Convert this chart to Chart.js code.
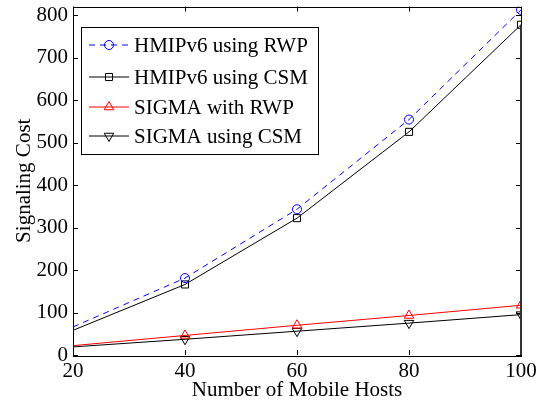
<!DOCTYPE html>
<html><head><meta charset="utf-8">
<script src="https://cdn.jsdelivr.net/npm/chart.js@4/dist/chart.umd.min.js"></script>
<style>html,body{margin:0;padding:0;background:#fff}#wrap{width:549px;height:408px}</style>
</head><body><div id="wrap"><canvas id="c" width="549" height="408"></canvas></div>
<script>
const hosts = [20, 40, 60, 80, 100];
const hmipRwp = [66, 181, 343, 554, 812];
const hmipCsm = [58, 166, 322, 525, 777];
const sigmaRwp = [22, 46, 70, 93, 117];
const sigmaCsm = [19, 37, 56, 75, 95];
const xTicks = [20, 40, 60, 80, 100];
const yTicks = [0, 100, 200, 300, 400, 500, 600, 700, 800];
const seriesLabels = ['HMIPv6 using RWP', 'HMIPv6 using CSM', 'SIGMA with RWP', 'SIGMA using CSM'];
const xTitle = 'Number of Mobile Hosts';
const yTitle = 'Signaling Cost';

const FONT = "'Liberation Serif', 'Times New Roman', serif";
Chart.defaults.font.family = FONT;
Chart.defaults.color = '#000';

function pts(vals) { return hosts.map((h, i) => ({x: h, y: vals[i]})); }
function hideFirst(r) { return ctx => ctx.dataIndex === 0 ? 0 : r; }

function ds(label, vals, color, dash, style, rot, r) {
  return {
    label, data: pts(vals), borderColor: color, borderWidth: 1, borderDash: dash,
    backgroundColor: 'rgba(0,0,0,0)', pointStyle: style, rotation: rot,
    pointRadius: hideFirst(r), pointBorderColor: color, pointBackgroundColor: 'rgba(0,0,0,0)',
    pointBorderWidth: 1, tension: 0, _mk: {style, rot, r}
  };
}

function drawMarker(ctx, style, rot, r, x, y) {
  ctx.beginPath();
  if (style === 'circle') {
    ctx.arc(x, y, r, 0, Math.PI * 2);
  } else if (style === 'rect') {
    const s = r * Math.SQRT1_2;
    ctx.rect(x - s, y - s, 2 * s, 2 * s);
  } else if (style === 'triangle') {
    const a = rot * Math.PI / 180;
    for (let k = 0; k < 3; k++) {
      const t = a + k * 2 * Math.PI / 3;
      const px = x + Math.sin(t) * r, py = y - Math.cos(t) * r;
      if (k === 0) ctx.moveTo(px, py); else ctx.lineTo(px, py);
    }
    ctx.closePath();
  }
  ctx.stroke();
}

const framePlugin = {
  id: 'frame',
  afterDatasetsDraw(chart) {
    const {ctx, chartArea: a, scales: {x, y}} = chart;
    ctx.save();
    ctx.setLineDash([]);
    ctx.strokeStyle = '#000';
    ctx.lineWidth = 1;
    ctx.strokeRect(Math.round(a.left) + 0.5, Math.round(a.top) + 0.5, Math.round(a.right - a.left), Math.round(a.bottom - a.top));
    const L = 5;
    ctx.beginPath();
    xTicks.forEach(v => {
      const px = Math.round(x.getPixelForValue(v)) + 0.5;
      ctx.moveTo(px, a.bottom); ctx.lineTo(px, a.bottom - L);
      ctx.moveTo(px, a.top); ctx.lineTo(px, a.top + L);
    });
    yTicks.forEach(v => {
      const py = Math.round(y.getPixelForValue(v)) + 0.5;
      ctx.moveTo(a.left, py); ctx.lineTo(a.left + L, py);
      ctx.moveTo(a.right, py); ctx.lineTo(a.right - L, py);
    });
    ctx.stroke();
    // right edge heavier (vertical drop at x = 100 in the source figure)
    ctx.strokeStyle = '#333';
    ctx.lineWidth = 2;
    ctx.beginPath();
    ctx.moveTo(Math.round(a.right), a.bottom);
    ctx.lineTo(Math.round(a.right), y.getPixelForValue(hmipCsm[hmipCsm.length - 1]));
    ctx.stroke();

    // legend box
    const bx = 81.5, by = 27.5, bw = 237, bh = 127;
    ctx.fillStyle = '#fff';
    ctx.fillRect(bx, by, bw, bh);
    ctx.strokeStyle = '#000';
    ctx.lineWidth = 1;
    ctx.strokeRect(bx, by, bw, bh);
    const rows = [45, 77, 107, 136];
    ctx.font = '21px ' + FONT;
    ctx.textBaseline = 'middle';
    ctx.textAlign = 'left';
    chart.data.datasets.forEach((d, i) => {
      const yy = rows[i];
      ctx.strokeStyle = d.borderColor;
      ctx.lineWidth = 1;
      ctx.setLineDash(d.borderDash || []);
      ctx.beginPath();
      ctx.moveTo(89, yy); ctx.lineTo(129, yy);
      ctx.stroke();
      ctx.setLineDash([]);
      drawMarker(ctx, d._mk.style, d._mk.rot, d._mk.r, 109, yy);
      ctx.fillStyle = '#000';
      ctx.fillText(d.label, 134, yy + 1);
    });
    ctx.restore();
  }
};

new Chart(document.getElementById('c'), {
  type: 'line',
  data: {
    datasets: [
      ds(seriesLabels[0], hmipRwp, '#0000ff', [6, 5], 'circle', 0, 4.5),
      ds(seriesLabels[1], hmipCsm, '#000000', [], 'rect', 0, 5),
      ds(seriesLabels[2], sigmaRwp, '#ff0000', [], 'triangle', 0, 5.5),
      ds(seriesLabels[3], sigmaCsm, '#000000', [], 'triangle', 180, 5.5)
    ]
  },
  options: {
    responsive: false,
    animation: false,
    devicePixelRatio: 1,
    layout: {padding: {top: 3, right: 28, left: 0, bottom: 5}},
    plugins: {legend: {display: false}, tooltip: {enabled: false}},
    scales: {
      x: {
        type: 'linear', min: 20, max: 100,
        afterBuildTicks: s => { s.ticks = xTicks.map(v => ({value: v})); },
        afterFit: s => { s.height = 48; s.paddingLeft = 0; s.paddingRight = 0; },
        grid: {display: false, drawTicks: false},
        border: {display: false},
        ticks: {font: {size: 21}, padding: 4, maxRotation: 0, autoSkip: false},
        title: {display: true, text: xTitle, font: {size: 21}, padding: 0}
      },
      y: {
        type: 'linear', min: 0, max: 820,
        afterBuildTicks: s => { s.ticks = yTicks.map(v => ({value: v})); },
        afterFit: s => { s.width = 73; s.paddingTop = 0; s.paddingBottom = 0; },
        grid: {display: false, drawTicks: false},
        border: {display: false},
        ticks: {font: {size: 21}, padding: 5, autoSkip: false},
        title: {display: true, text: yTitle, font: {size: 21}, padding: {top: 12, bottom: 0}}
      }
    }
  },
  plugins: [framePlugin]
});
</script>
</body></html>
